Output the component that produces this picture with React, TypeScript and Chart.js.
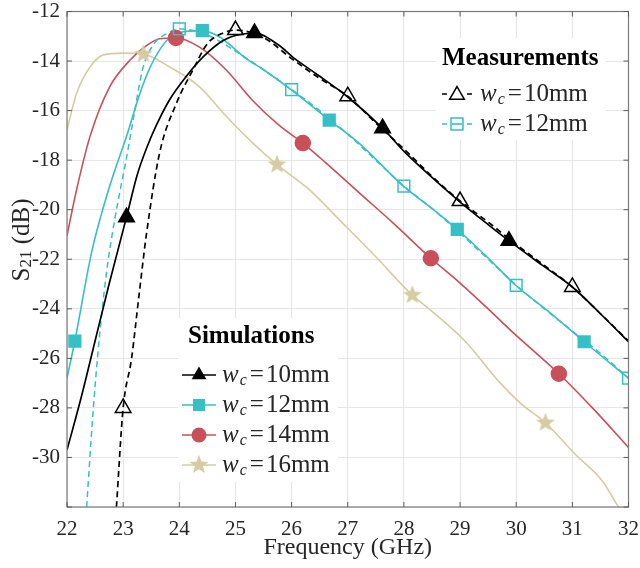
import { useEffect, useRef } from 'react';
import { Chart, registerables } from 'chart.js';

Chart.register(...registerables);

const FONT = '"Liberation Serif", "Times New Roman", serif';
const TXT = '#262626';
const AXC = '#7a7a7a';

const C_BLACK = '#000000';
const C_CYAN = '#35c0c6';
const C_RED = '#c9505b';
const C_BEIGE = '#d5cca3';

// axes
const X_MIN = 22, X_MAX = 32, X_STEP = 1;
const Y_MIN = -32, Y_MAX = -12, Y_STEP = 2;

// simulation wc=10mm
const sim10X = [22, 22.25, 22.5, 22.75, 23.06, 23.25, 23.42, 23.59, 23.83, 24.13, 24.42, 24.78, 25.0, 25.34, 25.78, 26.02, 26.43, 27.0, 27.62, 28.03, 28.5, 28.98, 29.5, 29.87, 30.5, 31.0, 31.5, 32];
const sim10Y = [-29.7, -27.6, -25.3, -23.0, -20.3, -18.6, -17.5, -16.6, -15.55, -14.6, -13.84, -13.17, -12.97, -12.87, -13.37, -13.84, -14.5, -15.45, -16.71, -17.71, -18.7, -19.65, -20.6, -21.25, -22.3, -23.12, -24.2, -25.33];
const sim10MkX = [23.06, 25.34, 27.62, 29.87];
const sim10MkY = [-20.3, -12.87, -16.71, -21.25];

// measurement wc=10mm
const meas10X = [22.88, 23.0, 23.15, 23.28, 23.42, 23.65, 23.95, 24.24, 24.5, 24.75, 25.0, 25.5, 26.0, 26.5, 27.0, 27.5, 28.0, 28.5, 29.0, 29.5, 30.0, 30.5, 31.0, 31.5, 32.0];
const meas10Y = [-32, -28.0, -26.0, -23.5, -20.9, -17.7, -15.7, -14.37, -13.3, -12.9, -12.75, -13.05, -13.9, -14.7, -15.42, -16.5, -17.55, -18.65, -19.65, -20.5, -21.4, -22.25, -23.12, -24.2, -25.3];
const meas10MkX = [23, 25, 27, 29, 31];
const meas10MkY = [-28.0, -12.75, -15.42, -19.65, -23.12];

// simulation wc=12mm
const sim12X = [22, 22.14, 22.44, 22.76, 23.06, 23.3, 23.47, 23.65, 23.83, 24.0, 24.41, 24.72, 25.19, 25.5, 25.99, 26.67, 27.2, 27.99, 28.5, 28.95, 29.5, 29.99, 30.6, 31.21, 32];
const sim12Y = [-26.8, -25.3, -21.7, -19.05, -17.04, -15.3, -14.3, -13.55, -13.05, -12.85, -12.77, -13.03, -13.9, -14.35, -15.15, -16.38, -17.31, -19.05, -19.95, -20.79, -21.95, -23.05, -24.15, -25.33, -26.8];
const sim12MkX = [22.14, 24.41, 26.67, 28.95, 31.21];
const sim12MkY = [-25.3, -12.77, -16.38, -20.79, -25.33];

// measurement wc=12mm
const meas12X = [22.35, 22.45, 22.55, 22.7, 22.85, 23.06, 23.2, 23.35, 23.55, 23.77, 24.0, 24.5, 25.0, 25.5, 26.0, 26.5, 27.0, 27.5, 28.0, 28.5, 29.0, 29.5, 30.0, 30.5, 31.0, 31.5, 32.0];
const meas12Y = [-32, -28.6, -25.8, -22.6, -20.4, -17.9, -16.1, -14.3, -13.3, -12.9, -12.7, -12.95, -13.6, -14.35, -15.15, -16.0, -16.95, -18.0, -19.05, -19.95, -20.95, -22.0, -23.05, -24.0, -24.9, -25.8, -26.8];
const meas12MkX = [24, 26, 28, 30, 32];
const meas12MkY = [-12.7, -15.15, -19.05, -23.05, -26.8];

// simulation wc=14mm
const sim14X = [22, 22.17, 22.41, 22.76, 23.12, 23.42, 23.65, 23.94, 24.36, 24.84, 25.31, 25.78, 26.2, 26.61, 27.2, 27.8, 28.48, 28.98, 29.5, 29.93, 30.76, 31.4, 32];
const sim14Y = [-21.05, -19.2, -17.04, -15.04, -13.97, -13.37, -13.1, -13.07, -13.44, -14.37, -15.6, -16.6, -17.31, -18.11, -19.31, -20.52, -21.96, -22.92, -24.0, -24.93, -26.62, -28.1, -29.6];
const sim14MkX = [23.94, 26.2, 28.48, 30.76];
const sim14MkY = [-13.07, -17.31, -21.96, -26.62];

// simulation wc=16mm
const sim16X = [22, 22.17, 22.41, 22.65, 23.0, 23.36, 23.83, 24.36, 24.84, 25.31, 25.74, 26.31, 26.9, 27.5, 28.15, 28.51, 29.1, 29.69, 30.1, 30.52, 31.05, 31.53, 31.82];
const sim16Y = [-16.78, -15.31, -14.24, -13.75, -13.68, -13.72, -14.24, -15.04, -16.24, -17.31, -18.18, -19.18, -20.52, -21.9, -23.45, -24.12, -25.33, -26.93, -27.86, -28.6, -29.87, -30.94, -32];
const sim16MkX = [23.36, 25.74, 28.15, 30.52];
const sim16MkY = [-13.72, -18.18, -23.45, -28.6];

const simLabels = ['=10mm', '=12mm', '=14mm', '=16mm'];
const measLabels = ['=10mm', '=12mm'];

const xy = (xs: number[], ys: number[]) => xs.map((x, i) => ({ x, y: ys[i] }));

function starPath(g: CanvasRenderingContext2D, cx: number, cy: number, R: number) {
  const r = R * 0.42;
  g.beginPath();
  for (let i = 0; i < 10; i++) {
    const a = -Math.PI / 2 + (i * Math.PI) / 5;
    const rr = i % 2 ? r : R;
    g.lineTo(cx + rr * Math.cos(a), cy + rr * Math.sin(a));
  }
  g.closePath();
}

function makeStar(R: number, color: string) {
  const c = document.createElement('canvas');
  const s = Math.ceil(R * 2 + 2);
  c.width = s; c.height = s;
  const g = c.getContext('2d')!;
  starPath(g, s / 2, s / 2, R);
  g.fillStyle = color;
  g.fill();
  return c;
}

function marker(g: CanvasRenderingContext2D, kind: string, x: number, y: number, color: string, filled: boolean) {
  g.save();
  g.fillStyle = color; g.strokeStyle = color; g.lineWidth = 1.5;
  g.beginPath();
  if (kind === 'tri') {
    const r = 8.5;
    for (let i = 0; i < 3; i++) {
      const a = -Math.PI / 2 + (i * 2 * Math.PI) / 3;
      g.lineTo(x + r * Math.cos(a), y + r * Math.sin(a));
    }
    g.closePath();
  } else if (kind === 'sq') {
    const h = 6;
    g.rect(x - h, y - h, 2 * h, 2 * h);
  } else if (kind === 'circ') {
    g.arc(x, y, 7.5, 0, Math.PI * 2);
  } else {
    starPath(g, x, y, 10);
  }
  if (filled) g.fill(); else g.stroke();
  g.restore();
}

function wcLabel(g: CanvasRenderingContext2D, x: number, y: number, rest: string) {
  g.textAlign = 'left'; g.textBaseline = 'middle'; g.fillStyle = TXT;
  g.font = `italic 25px ${FONT}`;
  g.fillText('w', x, y);
  x += g.measureText('w').width;
  g.font = `italic 16px ${FONT}`;
  g.fillText('c', x + 1, y + 6);
  x += g.measureText('c').width + 4;
  g.font = `25px ${FONT}`;
  g.fillText(rest.slice(0, 1), x, y);
  x += g.measureText(rest.slice(0, 1)).width + 2;
  g.fillText(rest.slice(1), x, y);
}

const decor = {
  id: 'decor',
  afterDraw(chart: any) {
    const { ctx: g, chartArea: a, scales } = chart;
    const xs = scales.x, ys = scales.y;
    g.save();
    // box and inward ticks
    g.strokeStyle = AXC; g.lineWidth = 1.2;
    g.strokeRect(a.left, a.top, a.right - a.left, a.bottom - a.top);
    g.strokeStyle = '#5a5a5a'; g.lineWidth = 1;
    g.beginPath();
    xs.ticks.forEach((t: any) => {
      const p = xs.getPixelForValue(t.value);
      g.moveTo(p, a.bottom); g.lineTo(p, a.bottom - 5);
      g.moveTo(p, a.top); g.lineTo(p, a.top + 5);
    });
    ys.ticks.forEach((t: any) => {
      const p = ys.getPixelForValue(t.value);
      g.moveTo(a.left, p); g.lineTo(a.left + 5, p);
      g.moveTo(a.right, p); g.lineTo(a.right - 5, p);
    });
    g.stroke();

    // axis titles
    g.fillStyle = TXT; g.textBaseline = 'middle';
    g.font = `24px ${FONT}`; g.textAlign = 'center';
    g.fillText('Frequency (GHz)', (a.left + a.right) / 2, 548);
    g.save();
    g.translate(22, 240);
    g.rotate(-Math.PI / 2);
    g.font = `25px ${FONT}`;
    const wS = g.measureText('S').width;
    const wRest = g.measureText(' (dB)').width;
    g.font = `17px ${FONT}`;
    const wSub = g.measureText('21').width;
    let x0 = -(wS + wSub + wRest) / 2;
    g.textAlign = 'left';
    g.font = `25px ${FONT}`; g.fillText('S', x0, 0); x0 += wS;
    g.font = `17px ${FONT}`; g.fillText('21', x0, 5); x0 += wSub;
    g.font = `25px ${FONT}`; g.fillText(' (dB)', x0, 0);
    g.restore();

    // measurements legend
    g.fillStyle = '#ffffff';
    g.fillRect(436, 38, 170, 102);
    g.fillStyle = '#000'; g.textAlign = 'left'; g.textBaseline = 'middle';
    g.font = `bold 25px ${FONT}`;
    g.fillText('Measurements', 442, 59);
    const mCols = [C_BLACK, C_CYAN];
    const mKinds = ['tri', 'sq'];
    measLabels.forEach((lab, i) => {
      const y = 94 + i * 30;
      g.strokeStyle = mCols[i]; g.lineWidth = 1.6;
      g.beginPath();
      g.moveTo(442, y); g.lineTo(447, y);
      g.moveTo(467, y); g.lineTo(472, y);
      g.stroke();
      marker(g, mKinds[i], 457, y + (i === 0 ? 1 : 0), mCols[i], false);
      if (i === 1) { g.beginPath(); g.moveTo(452, y); g.lineTo(462, y); g.stroke(); }
      wcLabel(g, 480, y, lab);
    });

    // simulations legend
    g.fillStyle = '#ffffff';
    g.fillRect(178, 318, 160, 164);
    g.fillStyle = '#000';
    g.font = `bold 25px ${FONT}`;
    g.fillText('Simulations', 188, 337);
    const sCols = [C_BLACK, C_CYAN, C_RED, C_BEIGE];
    const sKinds = ['tri', 'sq', 'circ', 'star'];
    simLabels.forEach((lab, i) => {
      const y = 375 + i * 30;
      g.strokeStyle = sCols[i]; g.lineWidth = 1.6;
      g.beginPath(); g.moveTo(182, y); g.lineTo(216, y); g.stroke();
      marker(g, sKinds[i], 199, y, sCols[i], true);
      wcLabel(g, 222, y, lab);
    });
    g.restore();
  },
};

export default function App() {
  const ref = useRef<HTMLCanvasElement>(null);
  const ci = useRef<Chart | null>(null);

  useEffect(() => {
    document.body.style.margin = '0';
    if (!ref.current) return;
    ci.current?.destroy();
    const star = makeStar(10, C_BEIGE);
    const line = (data: any, color: string, order: number, dash: number[] = [], w = 1.6) => ({
      type: 'line', data, borderColor: color, borderWidth: w, borderDash: dash,
      pointRadius: 0, fill: false, cubicInterpolationMode: 'monotone', order,
    });
    const pts = (data: any, style: any, r: number, fillC: string, border: string, order: number) => ({
      type: 'line', data, showLine: false, pointStyle: style, pointRadius: r,
      pointBackgroundColor: fillC, pointBorderColor: border, pointBorderWidth: 1.5, order,
    });
    ci.current = new Chart(ref.current, {
      type: 'line',
      data: {
        datasets: [
          pts(xy(meas10MkX, meas10MkY), 'triangle', 9, 'rgba(0,0,0,0)', C_BLACK, 1),
          pts(xy(meas12MkX, meas12MkY), 'rect', 8.3, 'rgba(0,0,0,0)', C_CYAN, 1),
          pts(xy(sim10MkX, sim10MkY), 'triangle', 9, C_BLACK, C_BLACK, 2),
          pts(xy(sim12MkX, sim12MkY), 'rect', 8.3, C_CYAN, C_CYAN, 2),
          pts(xy(sim14MkX, sim14MkY), 'circle', 7.5, C_RED, C_RED, 2),
          pts(xy(sim16MkX, sim16MkY), star, 10, C_BEIGE, C_BEIGE, 2),
          line(xy(sim10X, sim10Y), C_BLACK, 5, [], 1.7),
          line(xy(meas10X, meas10Y), C_BLACK, 6, [6, 4], 1.7),
          line(xy(sim12X, sim12Y), C_CYAN, 7),
          line(xy(meas12X, meas12Y), C_CYAN, 8, [6, 4], 1.5),
          line(xy(sim14X, sim14Y), C_RED, 9),
          line(xy(sim16X, sim16Y), C_BEIGE, 10),
        ] as any,
      },
      options: {
        responsive: false,
        animation: false,
        events: [],
        layout: { padding: { top: 7, right: 10, left: 0, bottom: 0 } },
        plugins: { legend: { display: false }, tooltip: { enabled: false } },
        scales: {
          x: {
            type: 'linear', min: X_MIN, max: X_MAX,
            grid: { color: '#e6e6e6', drawTicks: false },
            border: { display: false },
            ticks: { stepSize: X_STEP, padding: 10, color: TXT, font: { family: FONT, size: 21 } },
            afterFit: (s: any) => { s.height = 61; s.paddingLeft = 0; s.paddingRight = 0; },
          },
          y: {
            type: 'linear', min: Y_MIN, max: Y_MAX,
            grid: { color: '#e6e6e6', drawTicks: false },
            border: { display: false },
            ticks: {
              stepSize: Y_STEP, padding: 7, color: TXT, font: { family: FONT, size: 21 },
              callback: (v: any) => (v === Y_MIN ? '' : String(v)),
            },
            afterFit: (s: any) => { s.width = 67; s.paddingTop = 0; s.paddingBottom = 0; },
          },
        },
      },
      plugins: [decor],
    } as any);
    return () => { ci.current?.destroy(); ci.current = null; };
  }, []);

  return (
    <div style={{ width: 640, height: 568, position: 'relative', background: '#fff' }}>
      <canvas ref={ref} width={640} height={568} style={{ width: 640, height: 568 }} />
    </div>
  );
}
